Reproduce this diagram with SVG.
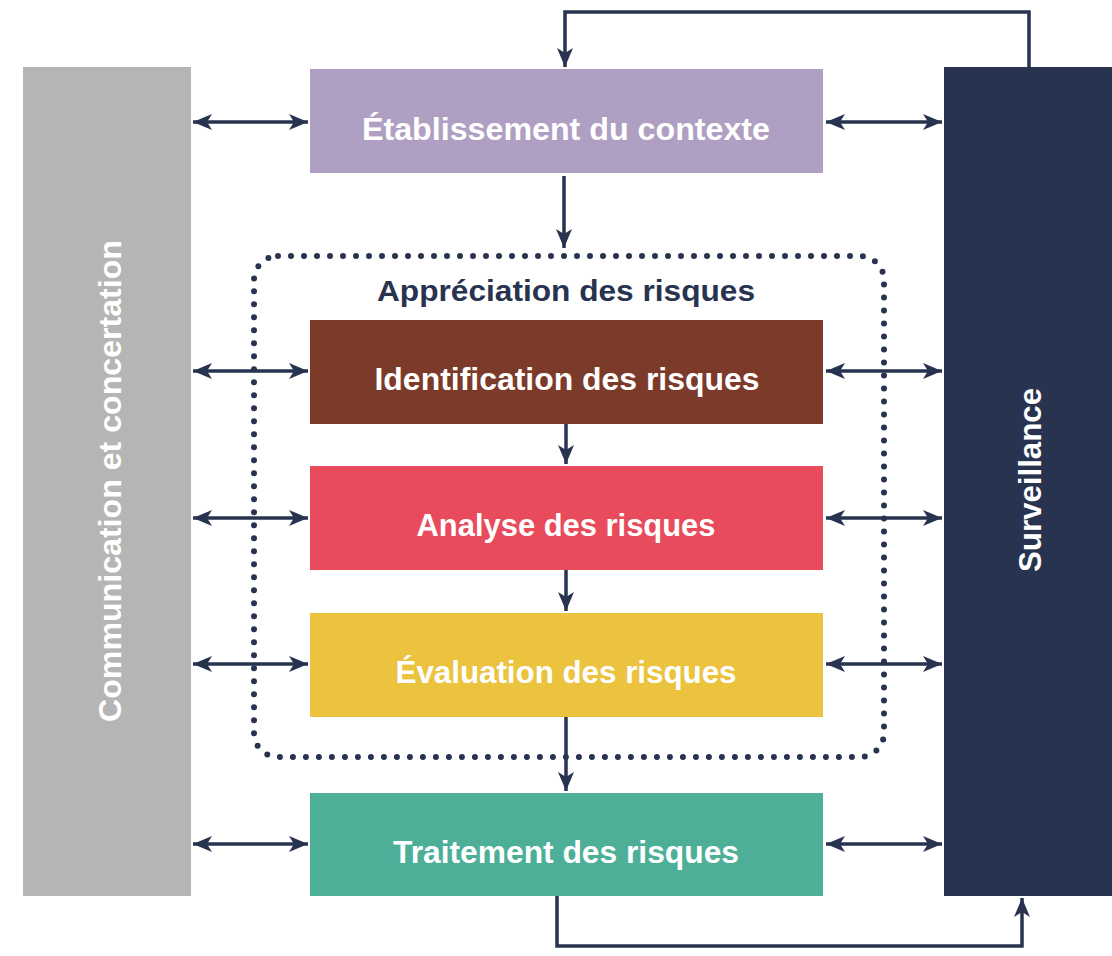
<svg xmlns="http://www.w3.org/2000/svg" width="1112" height="956" viewBox="0 0 1112 956">
<style>
.lbl{font-family:"Liberation Sans Narrow","Liberation Sans",Arial,sans-serif;font-weight:bold;font-size:31px;fill:#ffffff;text-anchor:middle}
.ttl{font-family:"Liberation Sans Narrow","Liberation Sans",Arial,sans-serif;font-weight:bold;font-size:30px;fill:#283350;text-anchor:middle}
.ln{stroke:#283350;stroke-width:3.5;fill:none}
</style>
<defs>
<marker id="ah" viewBox="0 0 19 16" refX="19" refY="8" markerWidth="19" markerHeight="16" markerUnits="userSpaceOnUse" orient="auto-start-reverse">
<path d="M0,0 L19,8 L0,16 L5,8 z" fill="#283350"/>
</marker>
</defs>
<rect width="1112" height="956" fill="#ffffff"/>
<g id="communication">
<rect x="23" y="67" width="168" height="829" fill="#b5b5b5"/>
<text class="lbl" transform="translate(110,481) rotate(-90)" y="11" textLength="482" lengthAdjust="spacingAndGlyphs">Communication et concertation</text>
</g>
<g id="surveillance">
<rect x="944" y="67" width="168" height="829" fill="#283350"/>
<text class="lbl" transform="translate(1030,480) rotate(-90)" y="11" textLength="184" lengthAdjust="spacingAndGlyphs">Surveillance</text>
</g>
<g id="appreciation">
<rect x="254" y="256" width="630" height="501" rx="24" ry="24" fill="none" stroke="#283350" stroke-width="6" stroke-linecap="round" stroke-dasharray="0 13"/>
<text class="ttl" x="566" y="301" textLength="378" lengthAdjust="spacingAndGlyphs">Appréciation des risques</text>
</g>
<g id="contexte">
<rect x="310" y="69" width="513" height="104" fill="#afa0c3"/>
<text class="lbl" x="566" y="140" textLength="408" lengthAdjust="spacingAndGlyphs">Établissement du contexte</text>
</g>
<g id="identification">
<rect x="310" y="320" width="513" height="104" fill="#7b3a2a"/>
<text class="lbl" x="567" y="390" textLength="385" lengthAdjust="spacingAndGlyphs">Identification des risques</text>
</g>
<g id="analyse">
<rect x="310" y="466" width="513" height="104" fill="#e84b5b"/>
<text class="lbl" x="566" y="536" textLength="299" lengthAdjust="spacingAndGlyphs">Analyse des risques</text>
</g>
<g id="evaluation">
<rect x="310" y="613" width="513" height="104" fill="#ebc33f"/>
<text class="lbl" x="566" y="683" textLength="341" lengthAdjust="spacingAndGlyphs">Évaluation des risques</text>
</g>
<g id="traitement">
<rect x="310" y="793" width="513" height="103" fill="#4daf98"/>
<text class="lbl" x="566" y="863" textLength="346" lengthAdjust="spacingAndGlyphs">Traitement des risques</text>
</g>
<g id="connectors">
<line class="ln" x1="193" y1="122" x2="308" y2="122" marker-start="url(#ah)" marker-end="url(#ah)"/>
<line class="ln" x1="826" y1="122" x2="942" y2="122" marker-start="url(#ah)" marker-end="url(#ah)"/>
<line class="ln" x1="193" y1="371" x2="308" y2="371" marker-start="url(#ah)" marker-end="url(#ah)"/>
<line class="ln" x1="826" y1="371" x2="942" y2="371" marker-start="url(#ah)" marker-end="url(#ah)"/>
<line class="ln" x1="193" y1="518" x2="308" y2="518" marker-start="url(#ah)" marker-end="url(#ah)"/>
<line class="ln" x1="826" y1="518" x2="942" y2="518" marker-start="url(#ah)" marker-end="url(#ah)"/>
<line class="ln" x1="193" y1="664" x2="308" y2="664" marker-start="url(#ah)" marker-end="url(#ah)"/>
<line class="ln" x1="826" y1="664" x2="942" y2="664" marker-start="url(#ah)" marker-end="url(#ah)"/>
<line class="ln" x1="193" y1="844" x2="308" y2="844" marker-start="url(#ah)" marker-end="url(#ah)"/>
<line class="ln" x1="826" y1="844" x2="942" y2="844" marker-start="url(#ah)" marker-end="url(#ah)"/>
<line class="ln" x1="564" y1="176" x2="564" y2="248" marker-end="url(#ah)"/>
<line class="ln" x1="566" y1="424" x2="566" y2="464" marker-end="url(#ah)"/>
<line class="ln" x1="566" y1="570" x2="566" y2="611" marker-end="url(#ah)"/>
<line class="ln" x1="566" y1="717" x2="566" y2="791" marker-end="url(#ah)"/>
<polyline class="ln" points="1029,67 1029,12 565,12 565,67" marker-end="url(#ah)"/>
<polyline class="ln" points="557,896 557,946 1022,946 1022,898" marker-end="url(#ah)"/>
</g>
</svg>
